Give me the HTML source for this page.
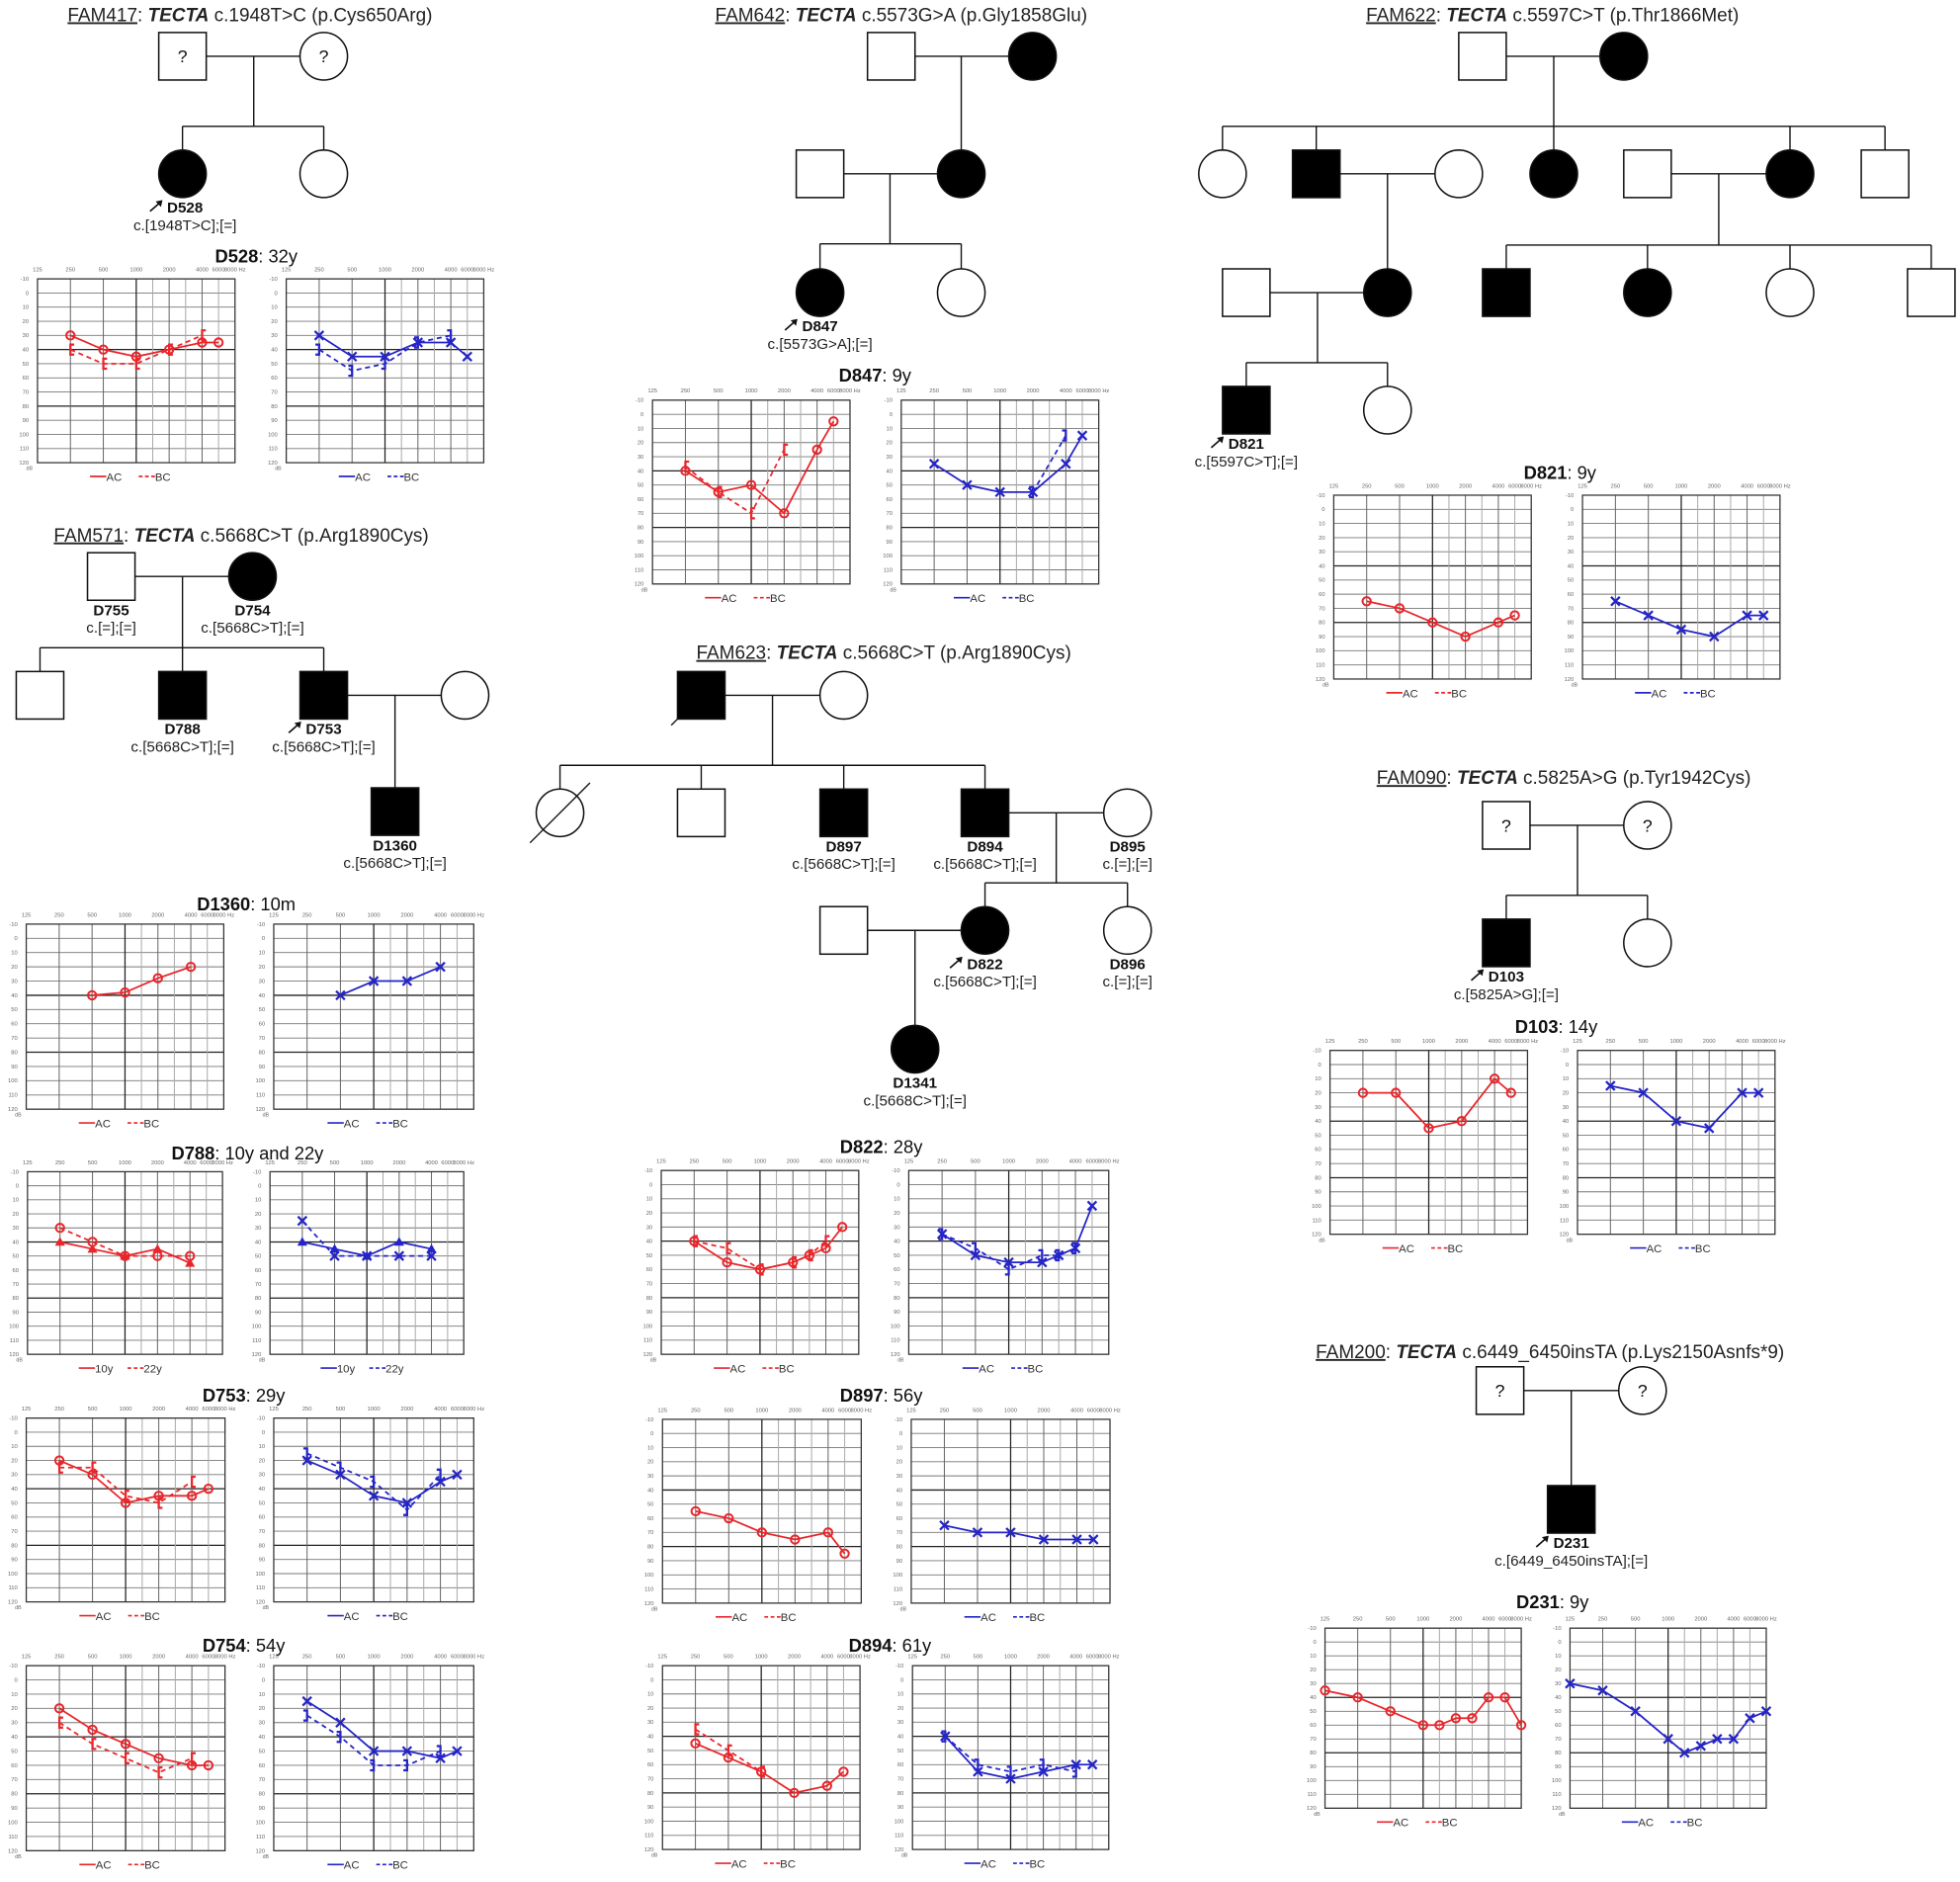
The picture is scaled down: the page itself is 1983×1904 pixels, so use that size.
<!DOCTYPE html>
<html><head><meta charset="utf-8"><title>TECTA pedigrees and audiograms</title>
<style>
html,body{margin:0;padding:0;background:#fff;}
svg{display:block;font-family:"Liberation Sans",Arial,sans-serif;}
</style></head>
<body>
<svg id="fig" width="1983" height="1904" viewBox="0 0 1568 1505" preserveAspectRatio="none" xmlns="http://www.w3.org/2000/svg">
<rect x="0" y="0" width="1568" height="1505" fill="#fff"/>
<g id="peds"></g>
<g id="auds"></g>
</svg>
<script>
// ===== Audiogram data (frequency Hz / threshold dB) =====
const F6 = [250,500,1000,2000,4000,6000];
const F5 = [250,500,1000,2000,4000];
const D528_R_AC = [30,40,45,40,35,35];
const D528_R_BC = [40,50,50,40,30];
const D528_B_AC = [30,45,45,35,35,45];
const D528_B_BC = [40,55,50,35,30];
const D847_R_AC = [40,55,50,70,25,5];
const D847_R_BC_F = [250,500,1000,2000];
const D847_R_BC = [37,55,70,25];
const D847_B_AC = [35,50,55,55,35,15];
const D847_B_BC_F = [2000,4000];
const D847_B_BC = [55,15];
const D821_R_AC = [65,70,80,90,80,75];
const D821_B_AC = [65,75,85,90,75,75];
const F4 = [500,1000,2000,4000];
const D1360_R_AC = [40,38,28,20];
const D1360_B_AC = [40,30,30,20];
const D788_R_10 = [30,40,50,50,50];
const D788_R_22 = [40,45,50,45,55];
const D788_B_10 = [25,50,50,50,50];
const D788_B_22 = [40,45,50,40,45];
const D753_R_AC = [20,30,50,45,45,40];
const D753_R_BC = [25,25,45,50,35];
const D753_B_AC = [20,30,45,50,35,30];
const D753_B_BC = [15,25,35,55,30];
const D754_R_AC = [20,35,45,55,60,60];
const D754_R_BC = [30,45,55,65,55];
const D754_B_AC = [15,30,50,50,55,50];
const D754_B_BC = [25,40,60,60,50];
const F7 = [250,500,1000,2000,3000,4000,6000];
const D822_R_AC = [40,55,60,55,50,45,30];
const D822_R_BC_F = [250,500,1000,2000,3000,4000];
const D822_R_BC = [40,45,60,55,50,40];
const D822_B_AC = [35,50,55,55,50,45,15];
const D822_B_BC_F = [250,500,1000,2000,3000,4000];
const D822_B_BC = [35,45,60,50,50,45];
const D897_R_AC = [55,60,70,75,70,85];
const D897_B_AC = [65,70,70,75,75,75];
const D894_R_AC = [45,55,65,80,75,65];
const D894_R_BC_F = [250,500,1000];
const D894_R_BC = [35,50,65];
const D894_B_AC = [40,65,70,65,60,60];
const D894_B_BC = [40,60,65,60,65];
const D103_R_AC = [20,20,45,40,10,20];
const D103_B_AC = [15,20,40,45,20,20];
const F10 = [125,250,500,1000,1500,2000,3000,4000,6000,8000];
const D231_R_AC = [35,40,50,60,60,55,55,40,40,60];
const D231_B_AC = [30,35,50,70,80,75,70,70,55,50];
const FREQ_TICKS = [125,250,500,1000,2000,4000,6000,8000];
const DB_TICKS = [-10,0,10,20,30,40,50,60,70,80,90,100,110,120];

const NS = "http://www.w3.org/2000/svg";
function el(tag, attrs, parent){
  const e = document.createElementNS(NS, tag);
  for (const k in attrs) e.setAttribute(k, attrs[k]);
  if (parent) parent.appendChild(e);
  return e;
}
// frequency -> audiogram column index (octave columns, half-octave at 1500/3000/6000)
const FIDX = {125:0,250:1,500:2,1000:3,1500:3.5,2000:4,3000:4.5,4000:5,6000:5.5,8000:6};

function marker(g, kind, x, y, color){
  if (kind === 'o') { el('circle',{cx:x,cy:y,r:3.3,fill:'none',stroke:color,'stroke-width':1.6},g); }
  else if (kind === 'x') { el('path',{d:`M${x-3.5} ${y-3.5}L${x+3.5} ${y+3.5}M${x+3.5} ${y-3.5}L${x-3.5} ${y+3.5}`,stroke:color,'stroke-width':1.8,fill:'none'},g); }
  else if (kind === '[') { el('path',{d:`M${x+3} ${y-4}H${x}V${y+4}H${x+3}`,stroke:color,'stroke-width':1.8,fill:'none'},g); }
  else if (kind === ']') { el('path',{d:`M${x-3} ${y-4}H${x}V${y+4}H${x-3}`,stroke:color,'stroke-width':1.8,fill:'none'},g); }
  else if (kind === '^') { el('path',{d:`M${x} ${y-4}L${x+4} ${y+3}H${x-4}Z`,fill:color},g); }
}

function audiogram(name, bx, by, bw, bh, color, series, legendLabels){
  const g = el('g', {}, document.getElementById('auds'));
  
  
  const xs = f => bx + FIDX[f] / 6 * bw;
  const ys = db => by + (db + 10) / 130 * bh;
  // horizontal grid
  DB_TICKS.forEach(d => {
    const heavy = (d === 40 || d === 80);
    el('line',{x1:bx,x2:bx+bw,y1:ys(d),y2:ys(d),stroke:heavy?'#222':'#777','stroke-width':heavy?1:0.7},g);
    const t = el('text',{x:bx-7,y:ys(d)+1.5,'font-size':4.6,fill:'#666','text-anchor':'end'},g);
    t.textContent = d;
  });
  const dbl = el('text',{x:bx-9,y:by+bh+6,'font-size':4.2,fill:'#666'},g); dbl.textContent='dB';
  // vertical grid
  [1,2,3,3.5,4,4.5,5,5.5].forEach(i => {
    const x = bx + i/6*bw;
    const heavy = i === 3;
    el('line',{x1:x,x2:x,y1:by,y2:by+bh,stroke:heavy?'#222':(i%1?'#aaa':'#666'),'stroke-width':heavy?1:0.8},g);
  });
  FREQ_TICKS.forEach((f,i) => {
    const t = el('text',{x:xs(f),y:by-6,'font-size':4.6,fill:'#666','text-anchor':'middle'},g);
    t.textContent = f + (f===8000?' Hz':'');
  });
  el('rect',{x:bx,y:by,width:bw,height:bh,fill:'none',stroke:'#333','stroke-width':1},g);
  // series
  series.forEach(s => {
    const sg = el('g',{},g);
    
    
    const pts = s.f.map((f,i) => xs(f)+','+ys(s.v[i])).join(' ');
    el('polyline',{points:pts,fill:'none',stroke:color,'stroke-width':1.4,'stroke-dasharray':s.dash?'4 3':'none'},sg);
    s.f.forEach((f,i) => marker(sg, s.m, xs(f), ys(s.v[i]), color));
  });
  // legend
  const lg = el('g',{},g);
  
  
  const cx = bx + bw/2, ly = by + bh + 11;
  el('line',{x1:cx-37,x2:cx-24,y1:ly,y2:ly,stroke:color,'stroke-width':1.3},lg);
  const a = el('text',{x:cx-24,y:ly+3.5,'font-size':9,fill:'#333'},lg); a.textContent = legendLabels[0];
  el('line',{x1:cx+2,x2:cx+15,y1:ly,y2:ly,stroke:color,'stroke-width':1.3,'stroke-dasharray':'3 2'},lg);
  const b = el('text',{x:cx+15,y:ly+3.5,'font-size':9,fill:'#333'},lg); b.textContent = legendLabels[1];
}

function title(name, cx, cy, bold, rest){
  const t = el('text',{x:cx,y:cy+5,'font-size':14.5,'text-anchor':'middle',fill:'#111'},document.getElementById('auds'));
  
  
  const b = el('tspan',{'font-weight':'bold'},t); b.textContent = bold;
  const r = el('tspan',{},t); r.textContent = rest;
}

const R = '#e8262b', B = '#2424c8';
const LAC = ['AC','BC'];
function pair(id, y0, y1, rx0, rx1, bx0, bx1, rs, bs, leg){
  audiogram(id+'-right-ear', rx0, y0, rx1-rx0, y1-y0, R, rs, leg||LAC);
  audiogram(id+'-left-ear', bx0, y0, bx1-bx0, y1-y0, B, bs, leg||LAC);
}

title('d528-title',205,205,'D528',': 32y');
pair('d528',223,370,30,188,229,387,
  [{name:'ac',f:F6,v:D528_R_AC,m:'o'},{name:'bc',f:F5,v:D528_R_BC,m:'[',dash:1}],
  [{name:'ac',f:F6,v:D528_B_AC,m:'x'},{name:'bc',f:F5,v:D528_B_BC,m:']',dash:1}]);
title('d847-title',700,300,'D847',': 9y');
pair('d847',320,467,522,680,721,879,
  [{name:'ac',f:F6,v:D847_R_AC,m:'o'},{name:'bc',f:D847_R_BC_F,v:D847_R_BC,m:'[',dash:1}],
  [{name:'ac',f:F6,v:D847_B_AC,m:'x'},{name:'bc',f:D847_B_BC_F,v:D847_B_BC,m:']',dash:1}]);
title('d821-title',1248,378,'D821',': 9y');
pair('d821',396,543,1067,1225,1266,1424,
  [{name:'ac',f:F6,v:D821_R_AC,m:'o'}],[{name:'ac',f:F6,v:D821_B_AC,m:'x'}]);
title('d1360-title',197,723,'D1360',': 10m');
pair('d1360',739,887,21,179,219,379,
  [{name:'ac',f:F4,v:D1360_R_AC,m:'o'}],[{name:'ac',f:F4,v:D1360_B_AC,m:'x'}]);
title('d788-title',198,922,'D788',': 10y and 22y');
pair('d788',937,1083,22,178,216,371,
  [{name:'10y',f:F5,v:D788_R_10,m:'o',dash:1},{name:'22y',f:F5,v:D788_R_22,m:'^'}],
  [{name:'10y',f:F5,v:D788_B_10,m:'x',dash:1},{name:'22y',f:F5,v:D788_B_22,m:'^'}],['10y','22y']);
title('d753-title',195,1116,'D753',': 29y');
pair('d753',1134,1281,21,180,219,379,
  [{name:'ac',f:F6,v:D753_R_AC,m:'o'},{name:'bc',f:F5,v:D753_R_BC,m:'[',dash:1}],
  [{name:'ac',f:F6,v:D753_B_AC,m:'x'},{name:'bc',f:F5,v:D753_B_BC,m:']',dash:1}]);
title('d754-title',195,1316,'D754',': 54y');
pair('d754',1332,1480,21,180,219,379,
  [{name:'ac',f:F6,v:D754_R_AC,m:'o'},{name:'bc',f:F5,v:D754_R_BC,m:'[',dash:1}],
  [{name:'ac',f:F6,v:D754_B_AC,m:'x'},{name:'bc',f:F5,v:D754_B_BC,m:']',dash:1}]);
title('d822-title',705,917,'D822',': 28y');
pair('d822',936,1083,529,687,727,887,
  [{name:'ac',f:F7,v:D822_R_AC,m:'o'},{name:'bc',f:D822_R_BC_F,v:D822_R_BC,m:'[',dash:1}],
  [{name:'ac',f:F7,v:D822_B_AC,m:'x'},{name:'bc',f:D822_B_BC_F,v:D822_B_BC,m:']',dash:1}]);
title('d897-title',705,1116,'D897',': 56y');
pair('d897',1135,1282,530,689,729,888,
  [{name:'ac',f:F6,v:D897_R_AC,m:'o'}],[{name:'ac',f:F6,v:D897_B_AC,m:'x'}]);
title('d894-title',712,1316,'D894',': 61y');
pair('d894',1332,1479,530,688,730,887,
  [{name:'ac',f:F6,v:D894_R_AC,m:'o'},{name:'bc',f:D894_R_BC_F,v:D894_R_BC,m:'[',dash:1}],
  [{name:'ac',f:F6,v:D894_B_AC,m:'x'},{name:'bc',f:F5,v:D894_B_BC,m:']',dash:1}]);
title('d103-title',1245,821,'D103',': 14y');
pair('d103',840,987,1064,1222,1262,1420,
  [{name:'ac',f:F6,v:D103_R_AC,m:'o'}],[{name:'ac',f:F6,v:D103_B_AC,m:'x'}]);
title('d231-title',1242,1281,'D231',': 9y');
pair('d231',1302,1446,1060,1217,1256,1413,
  [{name:'ac',f:F10,v:D231_R_AC,m:'o'}],[{name:'ac',f:F10,v:D231_B_AC,m:'x'}]);

// ===== Pedigrees =====
const P = document.getElementById('peds');
const S = 19;
function ln(x1,y1,x2,y2){ el('line',{x1,y1,x2,y2,stroke:'#111','stroke-width':1.1},P); }
function person(name, shape, cx, cy, filled, q, dec){
  const g = el('g',{},P);
  
  
  const st = {fill:filled?'#000':'#fff',stroke:'#111','stroke-width':1.2};
  if (shape==='s') el('rect',Object.assign({x:cx-S,y:cy-S,width:2*S,height:2*S},st),g);
  else el('ellipse',Object.assign({cx,cy,rx:S,ry:S},st),g);
  if (q){ const t=el('text',{x:cx,y:cy+5,'font-size':14,'text-anchor':'middle',fill:'#111'},g); t.textContent='?'; }
  if (dec) el('line',{x1:cx-24,y1:cy+24,x2:cx+(shape==='s'?-S:24),y2:cy+(shape==='s'?S:-24),stroke:'#111','stroke-width':1.1},g);
}
function label(name, cx, cy, id, geno, arrow){
  const g = el('g',{},P);
  
  
  if (id){ const t=el('text',{x:cx,y:cy+S+12,'font-size':12,'font-weight':'bold','text-anchor':'middle',fill:'#111'},g); t.textContent=id; }
  if (geno){ const t=el('text',{x:cx,y:cy+S+26,'font-size':12,'text-anchor':'middle',fill:'#222'},g); t.textContent=geno; }
  if (arrow){ el('line',{x1:cx-28,y1:cy+S+11,x2:cx-20,y2:cy+S+4,stroke:'#111','stroke-width':1.3},g);
    el('path',{d:`M${cx-18} ${cy+S+2}l-5.5 1.2l4.3 4.3z`,fill:'#111'},g); }
}
function ptitle(name, cx, cy, fam, mut){
  const t = el('text',{x:cx,y:cy+5,'font-size':15,'text-anchor':'middle',fill:'#222'},P);
  
  
  const a = el('tspan',{'text-decoration':'underline'},t); a.textContent = fam;
  const b = el('tspan',{},t); b.textContent = ': ';
  const c = el('tspan',{'font-weight':'bold','font-style':'italic'},t); c.textContent = 'TECTA';
  const d = el('tspan',{},t); d.textContent = ' ' + mut;
}

// FAM417
ptitle('fam417-title',200,12,'FAM417','c.1948T>C (p.Cys650Arg)');
ln(165,45,240,45); ln(203,45,203,101); ln(146,101,259,101); ln(146,101,146,120); ln(259,101,259,120);
person('fam417-father','s',146,45,0,1); person('fam417-mother','c',259,45,0,1);
person('d528','c',146,139,1); person('fam417-sister','c',259,139,0);
label('d528-label',148,139,'D528','c.[1948T>C];[=]',1);

// FAM642
ptitle('fam642-title',721,12,'FAM642','c.5573G>A (p.Gly1858Glu)');
ln(732,45,807,45); ln(769,45,769,120); ln(675,139,750,139); ln(712,139,712,195);
ln(656,195,769,195); ln(656,195,656,215); ln(769,195,769,215);
person('fam642-gf','s',713,45,0); person('fam642-gm','c',826,45,1);
person('fam642-father','s',656,139,0); person('fam642-mother','c',769,139,1);
person('d847','c',656,234,1); person('fam642-sister','c',769,234,0);
label('d847-label',656,234,'D847','c.[5573G>A];[=]',1);

// FAM622
ptitle('fam622-title',1242,12,'FAM622','c.5597C>T (p.Thr1866Met)');
ln(1205,45,1280,45); ln(1243,45,1243,101); ln(978,101,1508,101);
[978,1053,1243,1432,1508].forEach(x=>ln(x,101,x,120));
ln(1072,139,1148,139); ln(1110,139,1110,215);
ln(1337,139,1413,139); ln(1375,139,1375,196); ln(1205,196,1545,196);
[1205,1318,1432,1545].forEach(x=>ln(x,196,x,215));
ln(1016,234,1091,234); ln(1054,234,1054,290); ln(997,290,1110,290); ln(997,290,997,309); ln(1110,290,1110,309);
person('fam622-gf','s',1186,45,0); person('fam622-gm','c',1299,45,1);
person('fam622-ii1','c',978,139,0); person('fam622-ii2','s',1053,139,1); person('fam622-ii3','c',1167,139,0);
person('fam622-ii4','c',1243,139,1); person('fam622-ii5','s',1318,139,0); person('fam622-ii6','c',1432,139,1); person('fam622-ii7','s',1508,139,0);
person('fam622-iii1','s',997,234,0); person('fam622-iii2','c',1110,234,1); person('fam622-iii3','s',1205,234,1);
person('fam622-iii4','c',1318,234,1); person('fam622-iii5','c',1432,234,0); person('fam622-iii6','s',1545,234,0);
person('d821','s',997,328,1); person('fam622-iv2','c',1110,328,0);
label('d821-label',997,328,'D821','c.[5597C>T];[=]',1);

// FAM571
ptitle('fam571-title',193,428,'FAM571','c.5668C>T (p.Arg1890Cys)');
ln(108,461,183,461); ln(146,461,146,518); ln(32,518,259,518);
[32,146,259].forEach(x=>ln(x,518,x,537));
ln(278,556,353,556); ln(316,556,316,630);
person('d755','s',89,461,0); person('d754','c',202,461,1);
label('d755-label',89,461,'D755','c.[=];[=]'); label('d754-label',202,461,'D754','c.[5668C>T];[=]');
person('fam571-ii1','s',32,556,0); person('d788','s',146,556,1); person('d753','s',259,556,1); person('fam571-spouse','c',372,556,0);
label('d788-label',146,556,'D788','c.[5668C>T];[=]'); label('d753-label',259,556,'D753','c.[5668C>T];[=]',1);
person('d1360','s',316,649,1); label('d1360-label',316,649,'D1360','c.[5668C>T];[=]');

// FAM623
ptitle('fam623-title',707,522,'FAM623','c.5668C>T (p.Arg1890Cys)');
ln(580,556,656,556); ln(618,556,618,612); ln(448,612,788,612);
[448,561,675,788].forEach(x=>ln(x,612,x,631));
ln(807,650,883,650); ln(845,650,845,706); ln(788,706,902,706); ln(788,706,788,725); ln(902,706,902,725);
ln(694,744,769,744); ln(732,744,732,820);
person('fam623-gf','s',561,556,1,0,1); person('fam623-gm','c',675,556,0);
person('fam623-ii1','c',448,650,0,0,1); person('fam623-ii2','s',561,650,0);
person('d897','s',675,650,1); person('d894','s',788,650,1); person('d895','c',902,650,0);
label('d897-label',675,650,'D897','c.[5668C>T];[=]'); label('d894-label',788,650,'D894','c.[5668C>T];[=]'); label('d895-label',902,650,'D895','c.[=];[=]');
person('fam623-spouse','s',675,744,0); person('d822','c',788,744,1); person('d896','c',902,744,0);
label('d822-label',788,744,'D822','c.[5668C>T];[=]',1); label('d896-label',902,744,'D896','c.[=];[=]');
person('d1341','c',732,839,1); label('d1341-label',732,839,'D1341','c.[5668C>T];[=]');

// FAM090
ptitle('fam090-title',1251,622,'FAM090','c.5825A>G (p.Tyr1942Cys)');
ln(1224,660,1299,660); ln(1262,660,1262,716); ln(1205,716,1318,716); ln(1205,716,1205,735); ln(1318,716,1318,735);
person('fam090-father','s',1205,660,0,1); person('fam090-mother','c',1318,660,0,1);
person('d103','s',1205,754,1); person('fam090-sister','c',1318,754,0);
label('d103-label',1205,754,'D103','c.[5825A>G];[=]',1);

// FAM200
ptitle('fam200-title',1240,1081,'FAM200','c.6449_6450insTA (p.Lys2150Asnfs*9)');
ln(1219,1112,1295,1112); ln(1257,1112,1257,1188);
person('fam200-father','s',1200,1112,0,1); person('fam200-mother','c',1314,1112,0,1);
person('d231','s',1257,1207,1); label('d231-label',1257,1207,'D231','c.[6449_6450insTA];[=]',1);
</script>
</body></html>
